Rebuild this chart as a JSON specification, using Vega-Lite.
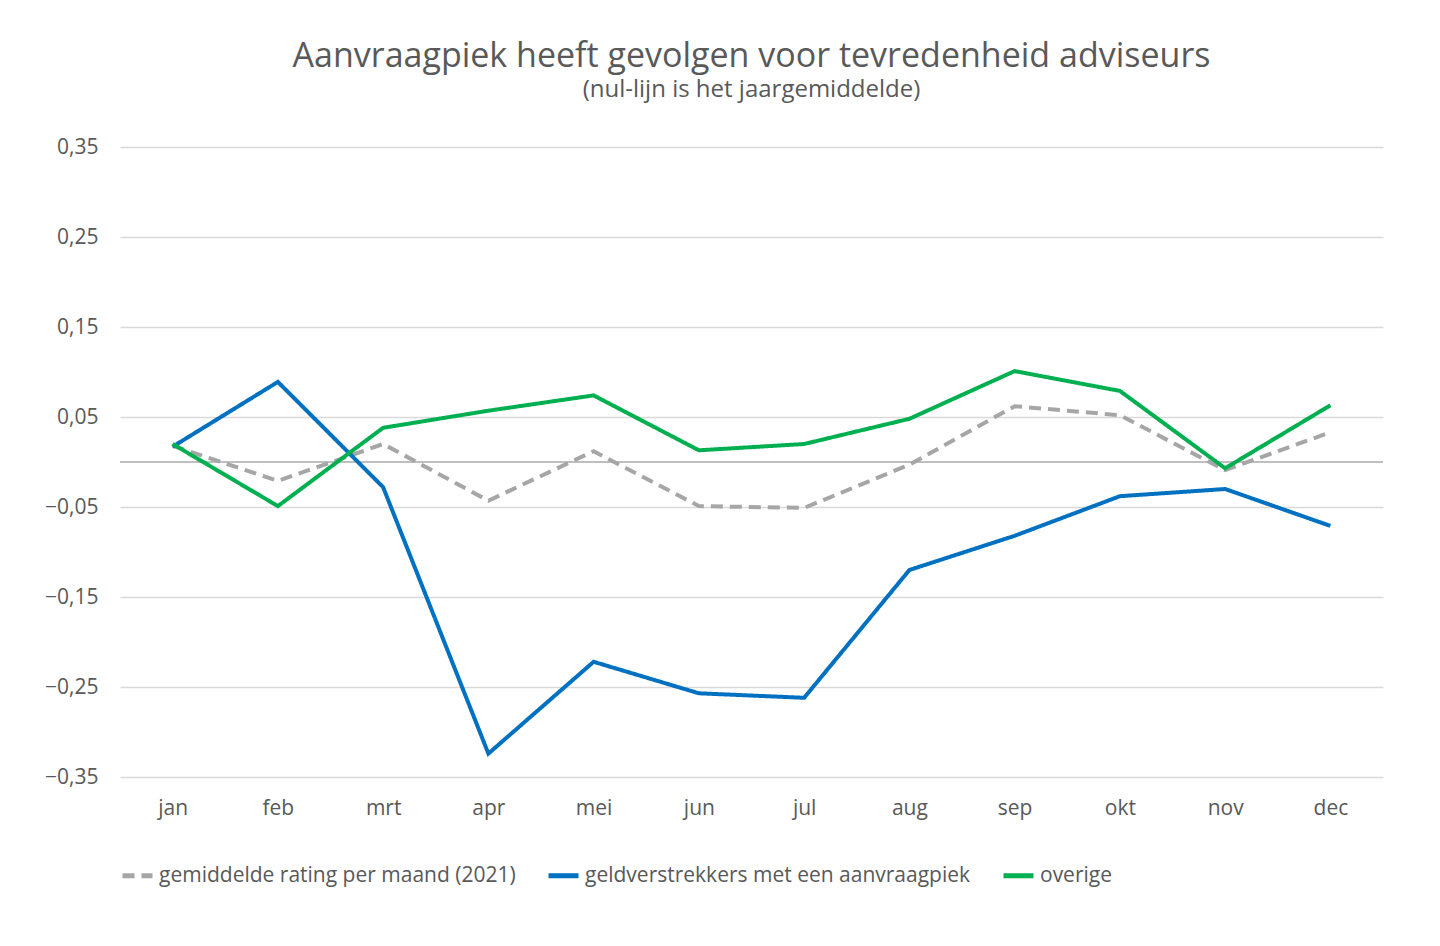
{
  "$schema": "https://vega.github.io/schema/vega-lite/v6.json",
  "width": 1263,
  "height": 630,
  "padding": {"left": 44, "top": 40, "right": 50, "bottom": 20},
  "background": "white",
  "config": {
    "locale": {"number": {"decimal": ",", "thousands": ".", "grouping": [3], "currency": ["€", ""]}},
    "view": {"stroke": null},
    "font": "Open Sans"
  },
  "title": {
    "text": "Aanvraagpiek heeft gevolgen voor tevredenheid adviseurs",
    "subtitle": "(nul-lijn is het jaargemiddelde)",
    "fontSize": 34, "fontWeight": "normal", "color": "#595959",
    "subtitleFontSize": 24, "subtitleColor": "#595959", "subtitlePadding": 4,
    "anchor": "middle", "offset": 34
  },
  "data": {"values": [
    {"maand": "jan", "serie": "gemiddelde rating per maand (2021)", "v": 0.018},
    {"maand": "feb", "serie": "gemiddelde rating per maand (2021)", "v": -0.021},
    {"maand": "mrt", "serie": "gemiddelde rating per maand (2021)", "v": 0.02},
    {"maand": "apr", "serie": "gemiddelde rating per maand (2021)", "v": -0.043},
    {"maand": "mei", "serie": "gemiddelde rating per maand (2021)", "v": 0.012},
    {"maand": "jun", "serie": "gemiddelde rating per maand (2021)", "v": -0.049},
    {"maand": "jul", "serie": "gemiddelde rating per maand (2021)", "v": -0.051},
    {"maand": "aug", "serie": "gemiddelde rating per maand (2021)", "v": -0.003},
    {"maand": "sep", "serie": "gemiddelde rating per maand (2021)", "v": 0.062},
    {"maand": "okt", "serie": "gemiddelde rating per maand (2021)", "v": 0.052},
    {"maand": "nov", "serie": "gemiddelde rating per maand (2021)", "v": -0.009},
    {"maand": "dec", "serie": "gemiddelde rating per maand (2021)", "v": 0.033},
    {"maand": "jan", "serie": "geldverstrekkers met een aanvraagpiek", "v": 0.017},
    {"maand": "feb", "serie": "geldverstrekkers met een aanvraagpiek", "v": 0.089},
    {"maand": "mrt", "serie": "geldverstrekkers met een aanvraagpiek", "v": -0.028},
    {"maand": "apr", "serie": "geldverstrekkers met een aanvraagpiek", "v": -0.324},
    {"maand": "mei", "serie": "geldverstrekkers met een aanvraagpiek", "v": -0.222},
    {"maand": "jun", "serie": "geldverstrekkers met een aanvraagpiek", "v": -0.257},
    {"maand": "jul", "serie": "geldverstrekkers met een aanvraagpiek", "v": -0.262},
    {"maand": "aug", "serie": "geldverstrekkers met een aanvraagpiek", "v": -0.12},
    {"maand": "sep", "serie": "geldverstrekkers met een aanvraagpiek", "v": -0.082},
    {"maand": "okt", "serie": "geldverstrekkers met een aanvraagpiek", "v": -0.038},
    {"maand": "nov", "serie": "geldverstrekkers met een aanvraagpiek", "v": -0.03},
    {"maand": "dec", "serie": "geldverstrekkers met een aanvraagpiek", "v": -0.071},
    {"maand": "jan", "serie": "overige", "v": 0.02},
    {"maand": "feb", "serie": "overige", "v": -0.049},
    {"maand": "mrt", "serie": "overige", "v": 0.038},
    {"maand": "apr", "serie": "overige", "v": 0.057},
    {"maand": "mei", "serie": "overige", "v": 0.074},
    {"maand": "jun", "serie": "overige", "v": 0.013},
    {"maand": "jul", "serie": "overige", "v": 0.02},
    {"maand": "aug", "serie": "overige", "v": 0.048},
    {"maand": "sep", "serie": "overige", "v": 0.101},
    {"maand": "okt", "serie": "overige", "v": 0.079},
    {"maand": "nov", "serie": "overige", "v": -0.007},
    {"maand": "dec", "serie": "overige", "v": 0.063}
  ]},
  "layer": [
    {
      "data": {"values": [{"nul": 0}]},
      "mark": {"type": "rule", "color": "#BFBFBF", "strokeWidth": 2},
      "encoding": {"y": {"field": "nul", "type": "quantitative", "scale": {"domain": [-0.35, 0.35]}}}
    },
    {
      "mark": {"type": "line", "strokeWidth": 4},
      "encoding": {
        "x": {"field": "maand", "type": "ordinal", "sort": null, "scale": {"type": "point", "padding": 0.5},
          "axis": {"title": null, "labelAngle": 0, "labelFontSize": 21, "labelColor": "#595959", "ticks": false, "domain": false, "labelPadding": 20}},
        "y": {"field": "v", "type": "quantitative", "scale": {"domain": [-0.35, 0.35], "nice": false},
          "axis": {"title": null, "values": [-0.35, -0.25, -0.15, -0.05, 0.05, 0.15, 0.25, 0.35], "format": ".2f", "labelFontSize": 21, "labelColor": "#595959", "ticks": false, "domain": false, "labelPadding": 22, "gridColor": "#D9D9D9", "gridWidth": 1.5}},
        "color": {"field": "serie", "type": "nominal",
          "scale": {"domain": ["gemiddelde rating per maand (2021)", "geldverstrekkers met een aanvraagpiek", "overige"], "range": ["#A6A6A6", "#0070C0", "#00B050"]},
          "legend": {"title": null, "orient": "bottom", "direction": "horizontal", "labelFontSize": 21, "labelColor": "#595959", "symbolType": "stroke", "symbolSize": 900, "symbolStrokeWidth": 5, "columnPadding": 22, "offset": 40, "labelLimit": 600}},
        "strokeDash": {"field": "serie", "type": "nominal",
          "scale": {"domain": ["gemiddelde rating per maand (2021)", "geldverstrekkers met een aanvraagpiek", "overige"], "range": [[12, 7], [1, 0], [1, 0]]},
          "legend": {"title": null}}
      }
    }
  ]
}
